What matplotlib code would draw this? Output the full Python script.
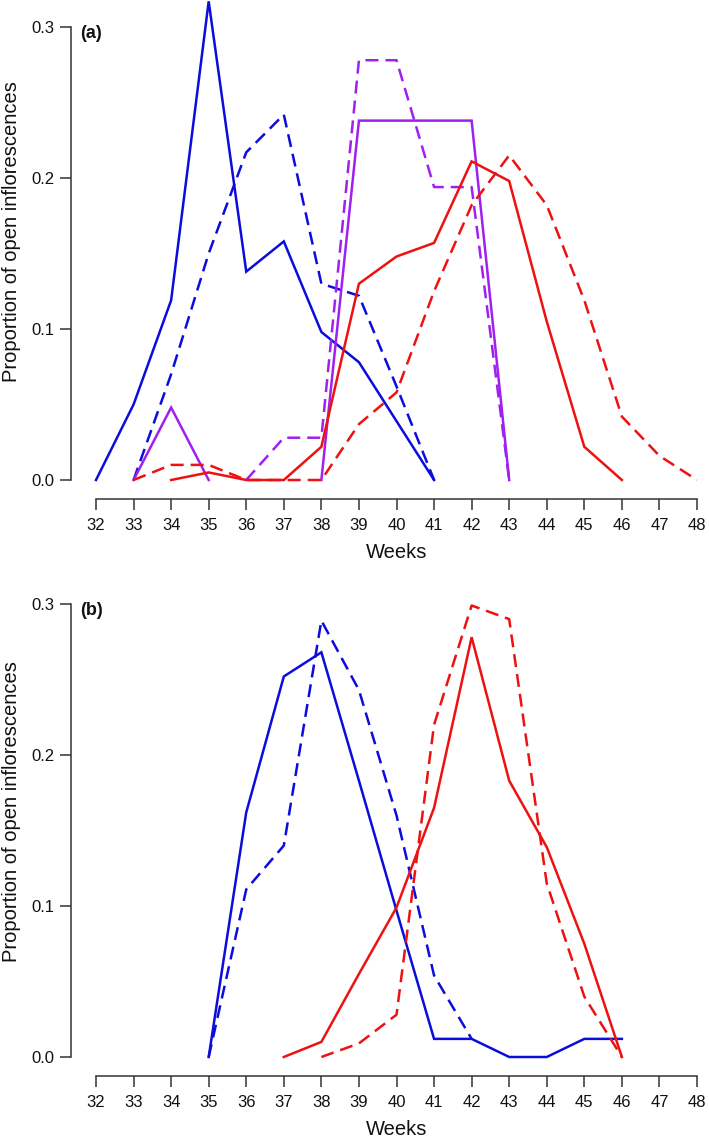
import matplotlib
matplotlib.use("Agg")
import matplotlib.pyplot as plt
import numpy as np

plt.rcParams["font.family"] = ["Liberation Sans", "DejaVu Sans"]

nan = np.nan
week_ticks = list(range(32, 49))
y_ticks = [0.0, 0.1, 0.2, 0.3]

# panel (a)
a_blue_solid_x = [32, 33, 34, 35, 36, 37, 38, 39, 40, 41]
a_blue_solid_y = [0.0, 0.050, 0.119, 0.317, 0.138, 0.158, 0.098, 0.078, 0.039, 0.0]
a_blue_dash_x = [33, 34, 35, 36, 37, 38, 39, 40, 41]
a_blue_dash_y = [0.0, 0.070, 0.150, 0.217, 0.242, 0.130, 0.122, 0.062, 0.0]
a_purple_solid_x = [33, 34, 35, 36, 37, 38, 39, 40, 41, 42, 43]
a_purple_solid_y = [0.0, 0.048, 0.0, nan, nan, 0.0, 0.238, 0.238, 0.238, 0.238, 0.0]
a_purple_dash_x = [36, 37, 38, 39, 40, 41, 42, 43]
a_purple_dash_y = [0.0, 0.028, 0.028, 0.278, 0.278, 0.194, 0.194, 0.0]
a_red_solid_x = [34, 35, 36, 37, 38, 39, 40, 41, 42, 43, 44, 45, 46]
a_red_solid_y = [0.0, 0.005, 0.0, 0.0, 0.022, 0.130, 0.148, 0.157, 0.211, 0.198, 0.105, 0.022, 0.0]
a_red_dash_x = [33, 34, 35, 36, 37, 38, 39, 40, 41, 42, 43, 44, 45, 46, 47, 48]
a_red_dash_y = [0.0, 0.010, 0.010, 0.0, 0.0, 0.0, 0.037, 0.058, 0.125, 0.182, 0.215, 0.182, 0.119, 0.042, 0.016, 0.0]

# panel (b)
b_blue_solid_x = [35, 36, 37, 38, 39, 40, 41, 42, 43, 44, 45, 46]
b_blue_solid_y = [0.0, 0.162, 0.252, 0.268, 0.183, 0.097, 0.012, 0.012, 0.0, 0.0, 0.012, 0.012]
b_blue_dash_x = [35, 36, 37, 38, 39, 40, 41, 42]
b_blue_dash_y = [0.0, 0.111, 0.140, 0.289, 0.243, 0.160, 0.054, 0.012]
b_red_solid_x = [37, 38, 39, 40, 41, 42, 43, 44, 45, 46]
b_red_solid_y = [0.0, 0.010, 0.055, 0.099, 0.165, 0.278, 0.183, 0.139, 0.075, 0.0]
b_red_dash_x = [38, 39, 40, 41, 42, 43, 44, 45, 46]
b_red_dash_y = [0.0, 0.009, 0.028, 0.220, 0.299, 0.290, 0.115, 0.040, 0.0]

BLUE = "#0C0CDC"
RED = "#EE1111"
PURPLE = "#A020F0"
AXCOL = "#333333"
TXT = "#111111"

W, H = 709, 1143
fig = plt.figure(figsize=(W / 100, H / 100), dpi=100)


def make_axes(top_px, bottom_px):
    left, right = 96, 697
    return fig.add_axes([left / W, 1 - bottom_px / H, (right - left) / W, (bottom_px - top_px) / H])


def style(ax, letter, label_y):
    ax.set_xlim(32, 48)
    ax.set_ylim(0, 0.3)
    for s in ("top", "right"):
        ax.spines[s].set_visible(False)
    ax.spines["left"].set_position(("outward", 18))
    ax.spines["bottom"].set_position(("outward", 13.7))
    ax.spines["left"].set_bounds(0, 0.3)
    ax.spines["bottom"].set_bounds(32, 48)
    for s in ("left", "bottom"):
        ax.spines[s].set_color(AXCOL)
        ax.spines[s].set_linewidth(1.1)
    ax.set_xticks(week_ticks)
    ax.set_yticks(y_ticks)
    ax.set_yticklabels([f"{v:.1f}" for v in y_ticks])
    ax.tick_params(axis="both", direction="out", length=8, width=1.1, color=AXCOL,
                   labelsize=12, labelcolor=TXT)
    ax.tick_params(axis="x", pad=6)
    ax.tick_params(axis="y", pad=4)
    ax.set_xlabel("Weeks", fontsize=14.5, color=TXT, labelpad=7)
    ax.text(-0.027, 0.985, letter, transform=ax.transAxes, fontsize=13,
            fontweight="bold", ha="left", va="center", color=TXT)
    fig.text(12 / W, 1 - label_y / H, "Proportion of open inflorescences", rotation=90,
             ha="center", va="center", fontsize=14.5, color=TXT)


def draw(ax, x, y, color, dashed):
    line, = ax.plot(x, y, color=color, lw=1.8, clip_on=False, solid_joinstyle="miter")
    if dashed:
        line.set_dashes((5.2, 2.8))


ax_a = make_axes(27, 480)
draw(ax_a, a_blue_solid_x, a_blue_solid_y, BLUE, False)
draw(ax_a, a_blue_dash_x, a_blue_dash_y, BLUE, True)
draw(ax_a, a_purple_solid_x, a_purple_solid_y, PURPLE, False)
draw(ax_a, a_purple_dash_x, a_purple_dash_y, PURPLE, True)
draw(ax_a, a_red_solid_x, a_red_solid_y, RED, False)
draw(ax_a, a_red_dash_x, a_red_dash_y, RED, True)
style(ax_a, "(a)", 232)

ax_b = make_axes(604, 1057)
draw(ax_b, b_blue_solid_x, b_blue_solid_y, BLUE, False)
draw(ax_b, b_blue_dash_x, b_blue_dash_y, BLUE, True)
draw(ax_b, b_red_solid_x, b_red_solid_y, RED, False)
draw(ax_b, b_red_dash_x, b_red_dash_y, RED, True)
style(ax_b, "(b)", 812)

fig.savefig("out.png", dpi=100, facecolor="white")
